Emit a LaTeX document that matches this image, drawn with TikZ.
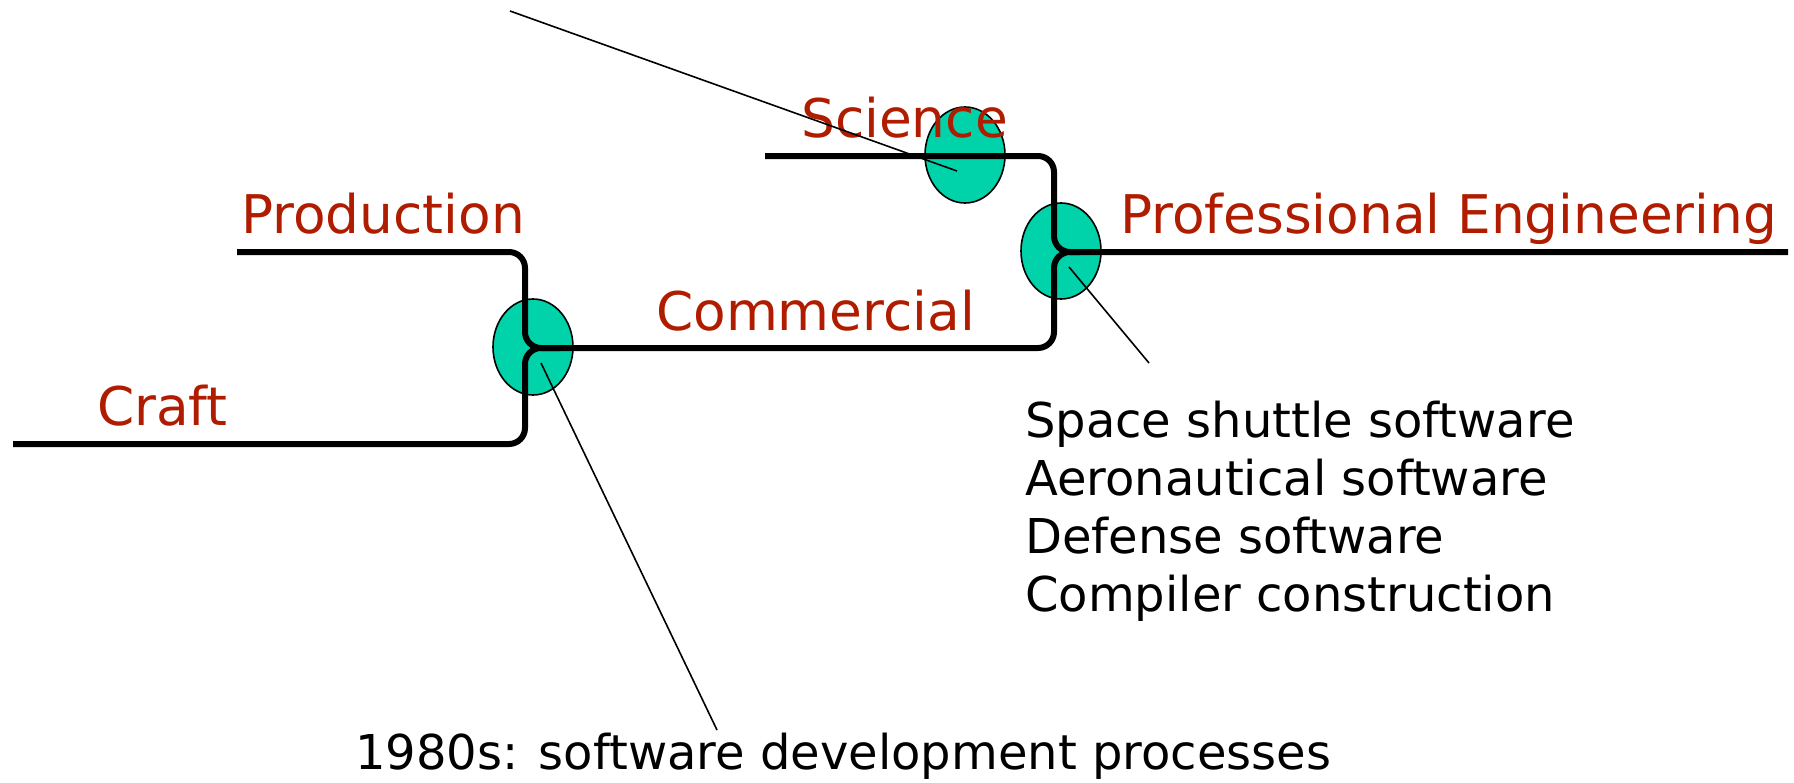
\documentclass[tikz,border=0pt]{standalone}
\usepackage{fontspec}
\setmainfont{DejaVu Sans}
\usetikzlibrary{shapes.geometric}
\definecolor{labelred}{RGB}{176,28,0}
\definecolor{blobfill}{RGB}{0,211,170}
\tikzset{
  blob/.style={ellipse, draw=black, line width=1.6pt, fill=blobfill,
    minimum width=80pt, minimum height=96pt, inner sep=0pt},
  track/.style={line width=6pt, rounded corners=16pt},
  leader/.style={line width=1.6pt},
  stream/.style={anchor=base west, inner sep=0pt, text=labelred,
    font=\fontsize{53.3}{62}\selectfont},
  note/.style={anchor=base west, inner sep=0pt, text=black,
    font=\fontsize{48}{58}\selectfont}
}
\begin{document}
\begin{tikzpicture}[x=1pt, y=-1pt]
\useasboundingbox (0,0) rectangle (1794,782);

% junction blobs
\node[blob] (j1) at (533,347) {};
\node[blob] (js) at (965,155) {};
\node[blob] (j2) at (1061,251) {};

% the streams merging left to right
\draw[track] (237,252) -- (525,252) -- (525,348) -- (560,348);
\draw[track] (13,444) -- (525,444) -- (525,348) -- (1054,348) -- (1054,252) -- (1080,252);
\draw[track] (765,156) -- (1054,156) -- (1054,252) -- (1788,252);

% stream names
\node[stream] (craft) at (97,425) {Craft};
\node[stream] (prod) at (241,233) {Production};
\node[stream] (comm) at (656,330) {Commercial};
\node[stream] (sci) at (801,137) {Science};
\node[stream] (prof) at (1120,233) {Professional Engineering};

% annotations
\node[note] (n1) at (1025,437) {Space shuttle software};
\node[note] (n2) at (1025,495) {Aeronautical software};
\node[note] (n3) at (1025,553) {Defense software};
\node[note] (n4) at (1025,611) {Compiler construction};
\node[note] (proc) at (355,769) {1980s: software development processes};

% leader lines
\coordinate (t0) at (510,11);
\coordinate (t1) at (957,171);
\coordinate (a0) at (541,363);
\coordinate (a1) at (717,730);
\coordinate (b0) at (1069,267);
\coordinate (b1) at (1149,363);
\draw[leader] (t0) -- (t1);
\draw[leader] (a0) -- (a1);
\draw[leader] (b0) -- (b1);
\end{tikzpicture}
\end{document}
